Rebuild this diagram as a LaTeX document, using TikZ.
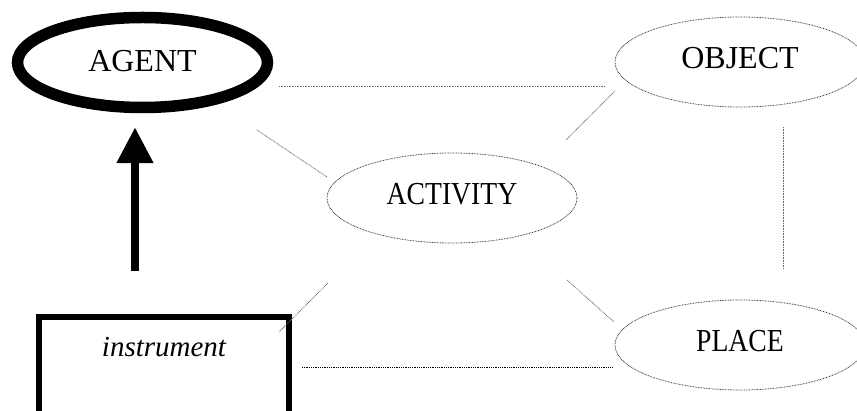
\documentclass[tikz,border=0pt]{standalone}
\usepackage{fontspec}
\setmainfont{Liberation Serif}
\usetikzlibrary{shapes.geometric,arrows.meta}
\newcommand{\narrowtext}[1]{\scalebox{0.865}[1]{#1}}
\begin{document}
\begin{tikzpicture}[x=1pt,y=-1pt,
  concept/.style={ellipse, draw=black!75, dash pattern=on 0.8pt off 0.8pt, line width=0.8pt,
    minimum width=250pt, minimum height=90pt, inner sep=0pt,
    font=\fontsize{32}{34}\selectfont, text height=22pt, text depth=9pt},
  link/.style={draw=black!60, line width=0.8pt, dash pattern=on 0.8pt off 0.8pt},
  darklink/.style={draw=black, line width=0.9pt, dash pattern=on 0.9pt off 0.9pt}]
\useasboundingbox (0,0) rectangle (857,411);
\node[concept, solid, draw=black, line width=11.5pt, minimum width=250pt, minimum height=90pt, text depth=4pt] (agent) at (142.5,62.5) {AGENT};
\node[concept] (object) at (740,62) {OBJECT};
\node[concept] (activity) at (452,198) {\narrowtext{ACTIVITY}};
\node[concept] (place) at (740,345) {\narrowtext{PLACE}};
\node[draw, line width=6pt, minimum width=250pt, minimum height=106pt, inner sep=0pt,
  font=\fontsize{29}{30}\selectfont\itshape, text height=20pt, text depth=47pt] (instr) at (164,370) {instrument};
\coordinate (abase) at (135,271);
\draw[line width=8pt, -{Triangle[width=35pt,length=36pt]}, shorten >=14pt] (abase) -- (abase |- agent.south);
\coordinate (l1a) at (279,86); \coordinate (l1b) at (605,86);
\coordinate (l2a) at (257,130); \coordinate (l2b) at (327,177);
\coordinate (l3a) at (566,140); \coordinate (l3b) at (615,91);
\coordinate (l4a) at (783,127); \coordinate (l4b) at (783,269);
\coordinate (l5a) at (567,280); \coordinate (l5b) at (614,322);
\coordinate (l6a) at (328,283); \coordinate (l6b) at (279,332);
\coordinate (l7a) at (302,367); \coordinate (l7b) at (613,367);
\draw[link] (l1a) -- (l1b);
\draw[link] (l2a) -- (l2b);
\draw[link] (l3a) -- (l3b);
\draw[link] (l4a) -- (l4b);
\draw[link] (l5a) -- (l5b);
\draw[link] (l6a) -- (l6b);
\draw[darklink] (l7a) -- (l7b);
\end{tikzpicture}
\end{document}
